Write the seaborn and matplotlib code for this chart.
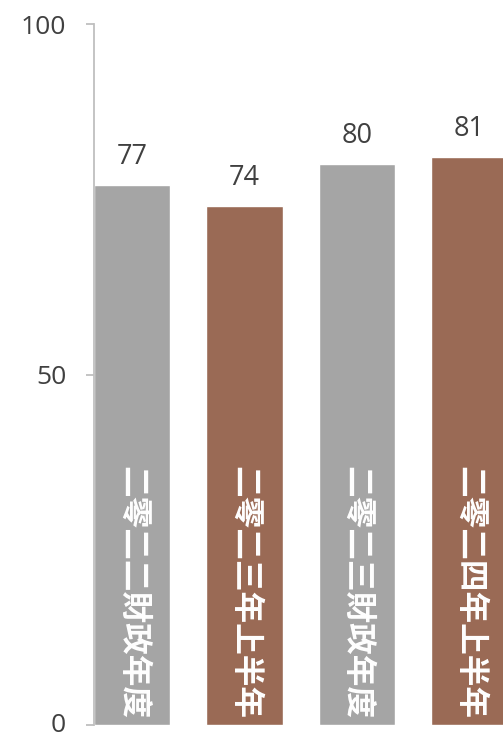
import matplotlib
matplotlib.use("Agg")
import matplotlib.pyplot as plt
import seaborn as sns
import pandas as pd

categories = ["二零二二財政年度", "二零二三年上半年", "二零二三財政年度", "二零二四年上半年"]
values = [77, 74, 80, 81]
bar_colors = ["#A5A5A5", "#9A6A55", "#A5A5A5", "#9A6A55"]
yticks = [0, 50, 100]

sns.set_theme(style="white")
plt.rcParams["font.family"] = ["Open Sans", "Noto Sans CJK TC", "DejaVu Sans"]

df = pd.DataFrame({"cat": categories, "val": values})

fig = plt.figure(figsize=(5.03, 7.35), dpi=100)
ax = fig.add_axes([94 / 503, 10 / 735, 1 - 94 / 503, 701 / 735])

sns.barplot(data=df, x="cat", y="val", hue="cat", palette=bar_colors,
            width=0.68, legend=False, ax=ax, saturation=1)

ax.set_ylim(0, 100)
ax.set_xlim(-0.34, 3.30)
ax.set_yticks(yticks)
ax.set_yticklabels([str(t) for t in yticks], fontsize=19, color="#404040")
ax.get_yticklabels()[0].set_va("center")
ax.set_xticks([])
ax.set_xlabel("")
ax.set_ylabel("")
for s in ["top", "right", "bottom"]:
    ax.spines[s].set_visible(False)
ax.spines["left"].set_color("#BFBFBF")
ax.spines["left"].set_linewidth(1.3)
ax.tick_params(axis="y", left=True, length=6, width=1.3, color="#BFBFBF", pad=14)

for cont in ax.containers:
    ax.bar_label(cont, fmt="%g", padding=10, fontsize=19.5, color="#404040")

for i, c in enumerate(categories):
    ax.text(i, 0.8, c, rotation=-90, ha="center", va="bottom",
            fontsize=22.8, fontweight="bold", color="white",
            family=["Noto Sans CJK TC", "DejaVu Sans"])

fig.savefig("out.png", dpi=100)
